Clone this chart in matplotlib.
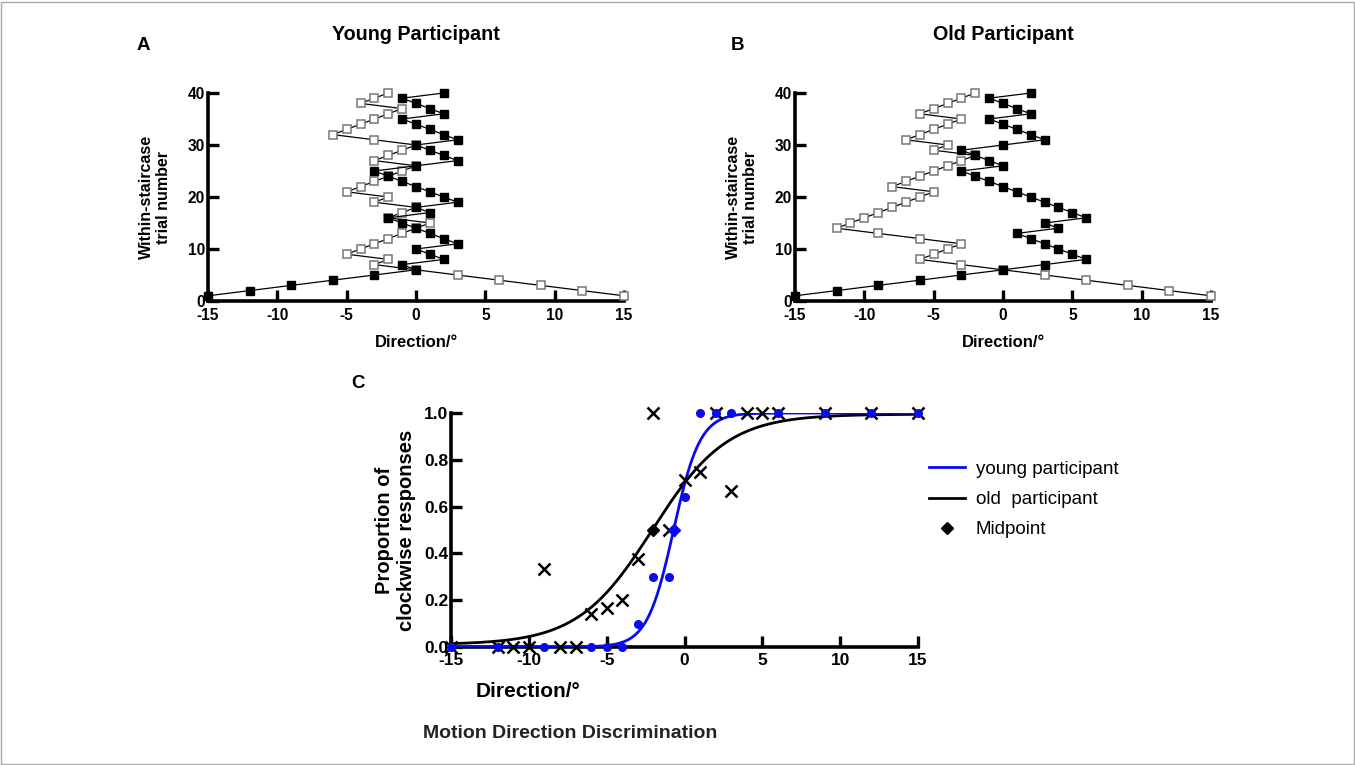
import numpy as np
import matplotlib
matplotlib.use("Agg")
from matplotlib import pyplot as plt
from matplotlib.patches import Rectangle

plt.rcParams['font.family'] = ['Liberation Sans', 'DejaVu Sans']
plt.rcParams['font.weight'] = 'bold'
plt.rcParams['axes.unicode_minus'] = False

# staircase data: x value per trial (trial number = 1..40)
trials = list(range(1, 41))
young_filled = [-15, -12, -9, -6, -3, 0, -1, 2, 1, 0, 3, 2, 1, 0, -1, -2, 1, 0, 3, 2,
                1, 0, -1, -2, -3, 0, 3, 2, 1, 0, 3, 2, 1, 0, -1, 2, 1, 0, -1, 2]
young_open = [15, 12, 9, 6, 3, 0, -3, -2, -5, -4, -3, -2, -1, 0, 1, -2, -1, 0, -3, -2,
              -5, -4, -3, -2, -1, 0, -3, -2, -1, 0, -3, -6, -5, -4, -3, -2, -1, -4, -3, -2]
old_filled = [-15, -12, -9, -6, -3, 0, 3, 6, 5, 4, 3, 2, 1, 4, 3, 6, 5, 4, 3, 2,
              1, 0, -1, -2, -3, 0, -1, -2, -3, 0, 3, 2, 1, 0, -1, 2, 1, 0, -1, 2]
old_open = [15, 12, 9, 6, 3, 0, -3, -6, -5, -4, -3, -6, -9, -12, -11, -10, -9, -8, -7, -6,
            -5, -8, -7, -6, -5, -4, -3, -2, -5, -4, -7, -6, -5, -4, -3, -6, -5, -4, -3, -2]

# proportion of clockwise responses
young_x = [-15, -12, -9, -6, -5, -4, -3, -2, -1, 0, 1, 2, 3, 6, 9, 12, 15]
young_p = [0, 0, 0, 0, 0, 0, 0.1, 0.3, 0.3, 0.643, 1, 1, 1, 1, 1, 1, 1]
old_x = [-15, -12, -11, -10, -9, -8, -7, -6, -5, -4, -3, -2, -1, 0, 1, 2, 3, 4, 5, 6, 9, 12, 15]
old_p = [0, 0, 0, 0, 0.333, 0, 0, 0.143, 0.167, 0.2, 0.375, 1, 0.5, 0.714, 0.75, 1, 0.667,
         1, 1, 1, 1, 1, 1]

# fitted sigmoid parameters (midpoint, slope, bottom, top)
young_fit = (-0.7, 0.85, 0.0, 1.0)
old_fit = (-2.05, 2.4, 0.01, 0.995)

BLUE = '#0a0af0'


def sigmoid(x, mid, slope, bottom, top):
    return bottom + (top - bottom) / (1 + np.exp(-(x - mid) / slope))


def style_axis(ax, size, xpad):
    for side in ['top', 'right']:
        ax.spines[side].set_visible(False)
    for side in ['left', 'bottom']:
        ax.spines[side].set_linewidth(2.6)
    ax.tick_params(direction='in', length=8, width=2.4, labelsize=size, pad=2)
    ax.tick_params(axis='x', pad=xpad)
    for lab in ax.get_xticklabels() + ax.get_yticklabels():
        lab.set_fontweight('bold')


def staircase(ax, filled, opened, title):
    ax.plot(opened, trials, color='black', lw=0.9, marker='s', ms=5.2,
            mfc='white', mec='#777777', mew=1.1, clip_on=False, zorder=3)
    ax.plot(filled, trials, color='black', lw=0.9, marker='s', ms=5.2,
            mfc='black', mec='black', clip_on=False, zorder=4)
    ax.set_xlim(-15, 15)
    ax.set_ylim(0, 40)
    ax.set_xticks([-15, -10, -5, 0, 5, 10, 15])
    ax.set_yticks([0, 10, 20, 30, 40])
    style_axis(ax, 11.2, 5)
    ax.set_xlabel('Direction/°', fontsize=12, fontweight='bold', labelpad=9)
    ax.set_ylabel('Within-staircase\ntrial number', fontsize=11.5, fontweight='bold', labelpad=12)
    ax.set_title(title, fontsize=14.2, fontweight='bold', pad=38)


fig = plt.figure(figsize=(13.55, 7.65), dpi=100)
axA = fig.add_axes([208 / 1355, 464 / 765, 416 / 1355, 208 / 765])
axB = fig.add_axes([795 / 1355, 464 / 765, 416 / 1355, 208 / 765])
axC = fig.add_axes([451 / 1355, 118 / 765, 467 / 1355, 234 / 765])

staircase(axA, young_filled, young_open, 'Young Participant')
staircase(axB, old_filled, old_open, 'Old Participant')

xs = np.linspace(-15, 15, 400)
axC.plot(xs, sigmoid(xs, *old_fit), color='black', lw=2, zorder=3, label='old  participant')
axC.plot(xs, sigmoid(xs, *young_fit), color=BLUE, lw=2, zorder=4, label='young participant')
axC.plot(old_x, old_p, ls='none', marker='x', ms=8, mew=1.8, color='black', clip_on=False, zorder=5)
axC.plot(young_x, young_p, ls='none', marker='o', ms=5.5, color=BLUE, clip_on=False, zorder=6)
axC.plot([old_fit[0]], [0.5], ls='none', marker='D', ms=6.5, color='black', zorder=7, label='Midpoint')
axC.plot([young_fit[0]], [0.5], ls='none', marker='D', ms=6, color=BLUE, zorder=7)
axC.set_xlim(-15, 15)
axC.set_ylim(0, 1)
axC.set_xticks([-15, -10, -5, 0, 5, 10, 15])
axC.set_yticks([0, 0.2, 0.4, 0.6, 0.8, 1.0])
axC.set_yticklabels(['0.0', '0.2', '0.4', '0.6', '0.8', '1.0'])
style_axis(axC, 12.5, 4.5)
axC.set_ylabel('Proportion of\nclockwise responses', fontsize=14.5, fontweight='bold', labelpad=6)
axC.set_xlabel('Direction/°', fontsize=15, fontweight='bold')
axC.xaxis.set_label_coords((528 - 451) / 467, -0.15)

handles, labels = axC.get_legend_handles_labels()
order = [1, 0, 2]
fig.legend([handles[i] for i in order], [labels[i] for i in order],
           loc='upper left', bbox_to_anchor=(912 / 1355, 1 - 444 / 765),
           frameon=False, handlelength=1.9, handletextpad=0.6, labelspacing=0.7,
           prop={'weight': 'normal', 'size': 13.5})

fig.text(143 / 1355, 1 - 46 / 765, 'A', fontsize=13.5, fontweight='bold', ha='center', va='center')
fig.text(738 / 1355, 1 - 46 / 765, 'B', fontsize=13.5, fontweight='bold', ha='center', va='center')
fig.text(358 / 1355, 1 - 383 / 765, 'C', fontsize=13.5, fontweight='bold', ha='center', va='center')
fig.text(570 / 1355, 1 - 734 / 765, 'Motion Direction Discrimination', fontsize=14,
         fontweight='bold', ha='center', va='center', color='#222222')

fig.patches.append(Rectangle((0.001, 0.001), 0.998, 0.997, transform=fig.transFigure,
                             fill=False, edgecolor='#aaaaaa', lw=1))

fig.savefig('out.png', dpi=100)
